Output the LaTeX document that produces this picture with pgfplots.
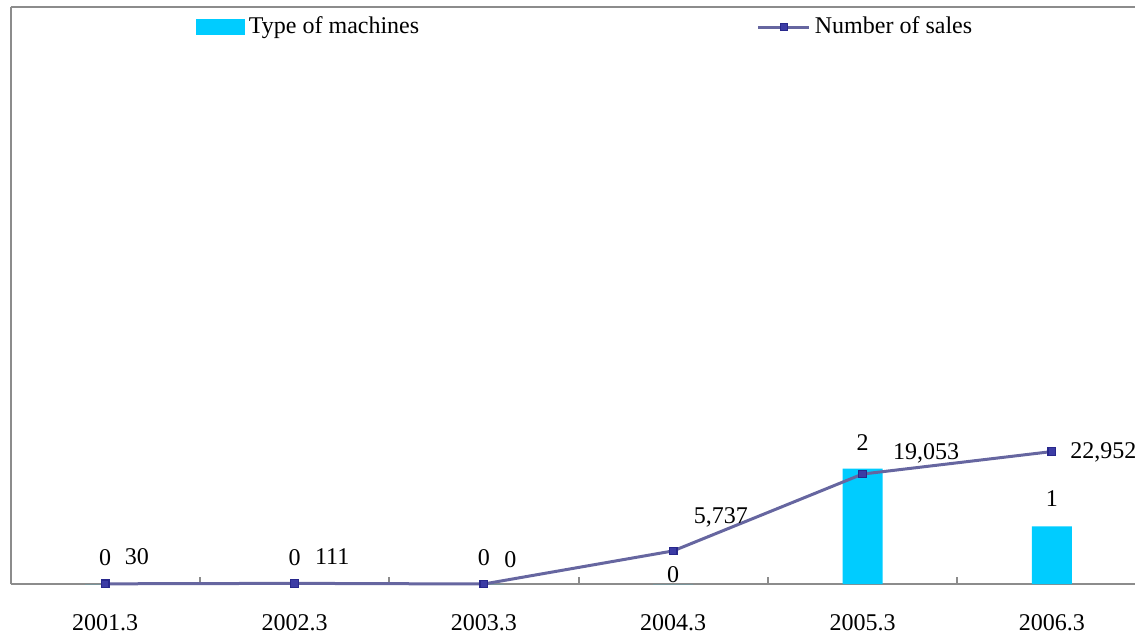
\documentclass[border=0pt]{standalone}
\usepackage{fontspec}
\setmainfont{Liberation Serif}
\usepackage{pgfplots}
\usepackage{pgfplotstable}
\pgfplotsset{compat=1.18}

\definecolor{barcyan}{RGB}{0,204,255}
\definecolor{salesline}{RGB}{102,102,160}
\definecolor{salesmark}{RGB}{60,60,165}
\definecolor{salesedge}{RGB}{40,40,140}
\definecolor{framegray}{RGB}{140,140,140}

% machine types per year (x = year index, dy = label lift in pt)
\pgfplotstableread{
x y dy
0 0 9.5
1 0 9.5
2 0 9.5
3 0 1
4 2 9
5 1 10
}\machines

% number of sales per year (dx, dy = label offset in pt)
\pgfplotstableread{
x y dx dy
0 30 9.5 9.5
1 111 10 9.5
2 0 10 8.5
3 5737 10 13.5
4 19053 15 7.5
5 22952 9 -3.5
}\sales

\begin{document}
\begin{tikzpicture}
\pgfplotsset{
  every axis/.append style={
    scale only axis, width=568pt, height=288.5pt,
    at={(0,0)}, anchor=south west,
    xmin=-0.5, xmax=5.5, ymin=0,
    clip=false,
    font=\fontsize{12}{14}\selectfont,
  },
}
% bars: type of machines
\begin{axis}[
  ymax=10,
  ybar, bar width=20pt, bar shift=0pt,
  axis y line*=left,
  axis line style={framegray, line width=1pt},
  xtick={0,...,5},
  xticklabels={2001.3,2002.3,2003.3,2004.3,2005.3,2006.3},
  major tick length=0pt,
  minor xtick={0.5,1.5,2.5,3.5,4.5},
  minor tick length=3.5pt,
  minor tick style={framegray, line width=1pt},
  xtick pos=bottom, tick align=inside,
  xticklabel style={anchor=base, yshift=-23pt},
  ytick=\empty,
  legend style={draw=none, fill=none, at={(0.1629,0.9653)}, anchor=west,
    inner sep=0pt, font=\fontsize{12}{14}\selectfont},
  legend image code/.code={\fill[#1] (0pt,-4pt) rectangle (24.5pt,4pt);},
  visualization depends on={\thisrow{dy}\as\labdy},
  nodes near coords={\pgfmathprintnumber[fixed,precision=0,assume math mode=true]{\pgfplotspointmeta}},
  every node near coord/.append style={anchor=base, yshift=\labdy pt, inner sep=0pt, text=black},
]
\addplot[fill=barcyan, draw=none] table[x=x, y=y] {\machines};
\addlegendentry{Type of machines}
\end{axis}
% line: number of sales
\begin{axis}[
  ymax=100000,
  hide axis,
  legend style={draw=none, fill=none, at={(0.6567,0.9653)}, anchor=west,
    inner sep=0pt, font=\fontsize{12}{14}\selectfont},
  legend image code/.code={
    \draw[mark repeat=2, mark phase=2, #1] plot coordinates {(0pt,0pt) (12.75pt,0pt) (25.5pt,0pt)};},
  visualization depends on={\thisrow{dx}\as\labdx},
  visualization depends on={\thisrow{dy}\as\labdy},
  nodes near coords={\pgfmathprintnumber[fixed,precision=0,1000 sep={,},assume math mode=true]{\pgfplotspointmeta}},
  every node near coord/.append style={anchor=base west, xshift=\labdx pt, yshift=\labdy pt, inner sep=0pt, text=black},
]
\addplot[salesline, line width=1.5pt, mark=square*, mark size=1.9pt,
  mark options={fill=salesmark, draw=salesedge, line width=0.6pt}]
  table[x=x, y=y] {\sales};
\addlegendentry{Number of sales}
\end{axis}
\pgfresetboundingbox
\useasboundingbox (-5.25pt,-24.5pt) rectangle (562.25pt,292pt);
\end{tikzpicture}
\end{document}
